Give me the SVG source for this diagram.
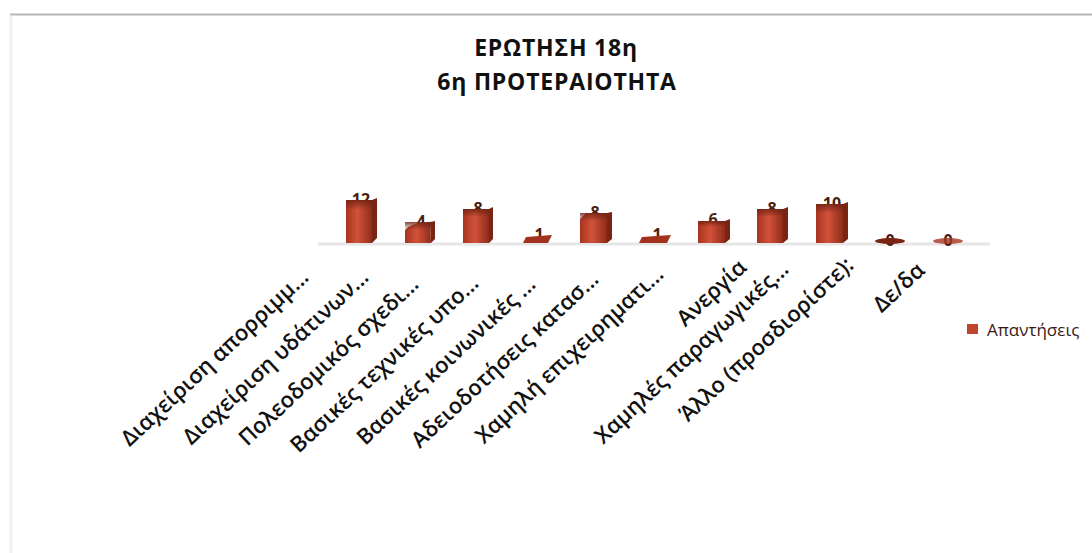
<svg xmlns="http://www.w3.org/2000/svg" width="1092" height="553" viewBox="0 0 1092 553">
<defs>
<linearGradient id="barG" x1="0" y1="0" x2="1" y2="0">
<stop offset="0" stop-color="#a8341f"/>
<stop offset="0.45" stop-color="#d2523a"/>
<stop offset="1" stop-color="#8e2c1a"/>
</linearGradient>
<linearGradient id="topG" x1="0" y1="0" x2="0" y2="1">
<stop offset="0" stop-color="#6e2214" stop-opacity="0.85"/>
<stop offset="1" stop-color="#6e2214" stop-opacity="0"/>
</linearGradient>
<style>
.title{font-family:"Open Sans","Noto Sans",sans-serif;font-weight:700;font-size:23px;letter-spacing:0.8px;fill:#111;text-anchor:middle}
.cat{font-family:"Open Sans","Noto Sans",sans-serif;font-weight:600;font-size:22px;fill:#111;text-anchor:end}
.val{font-family:"Open Sans","Noto Sans",sans-serif;font-weight:700;font-size:16px;fill:#4a1c12;text-anchor:middle}
.side{fill:#7a2414}
.front{fill:url(#barG)}
.shade{fill:url(#topG)}
.leg{font-family:"Open Sans","Noto Sans",sans-serif;font-size:17px;fill:#3a1a12}
</style>
</defs>
<rect x="0" y="0" width="1092" height="553" fill="#fff"/>
<line x1="10" y1="14.5" x2="1092" y2="14.5" stroke="#b4b6ba" stroke-width="2"/>
<line x1="11" y1="16" x2="11" y2="553" stroke="#f0f0f0" stroke-width="3"/>
<g id="title">
<text class="title" x="556" y="56">ΕΡΩΤΗΣΗ 18η</text>
<text class="title" x="557" y="90">6η ΠΡΟΤΕΡΑΙΟΤΗΤΑ</text>
</g>
<g id="floor">
<line x1="318" y1="244" x2="990" y2="244" stroke="#e6e6e6" stroke-width="3"/>
</g>
<g id="values">
<text class="val" x="361" y="205">12</text>
<text class="val" x="421" y="227">4</text>
<text class="val" x="478" y="214">8</text>
<text class="val" x="539" y="240">1</text>
<text class="val" x="595" y="218">8</text>
<text class="val" x="657" y="240">1</text>
<text class="val" x="713" y="225">6</text>
<text class="val" x="772" y="214">8</text>
<text class="val" x="832" y="209">10</text>
<text class="val" x="890" y="246">0</text>
<text class="val" x="948" y="246">0</text>
</g>
<g id="bars">
<g id="bar1"><rect class="front" x="346" y="200" width="26" height="43"/><path class="side" d="M372 200 L377 198 L377 238 L372 243 Z"/><rect class="shade" x="346" y="200" width="26" height="10"/></g>
<g id="bar2"><path class="front" d="M405 230 Q412 222 430 222 L431 243 L405 243 Z"/><path class="side" d="M430 222 L435 221 L435 239 L431 243 Z"/><rect class="shade" x="405" y="222" width="26" height="8"/></g>
<g id="bar3"><rect class="front" x="463" y="209" width="26" height="34"/><path class="side" d="M489 209 L493 207 L493 239 L489 243 Z"/><rect class="shade" x="463" y="209" width="26" height="8"/></g>
<g id="bar4"><path d="M526 237 L552 235 L548 243 L523 243 Z" fill="#a0321e"/></g>
<g id="bar5"><path class="front" d="M580 219 L586 213 L607 213 L607 243 L580 243 Z"/><path class="side" d="M607 213 L612 212 L612 239 L607 243 Z"/><rect class="shade" x="580" y="213" width="27" height="8"/></g>
<g id="bar6"><path d="M642 237 L671 235 L667 243 L639 243 Z" fill="#a0321e"/></g>
<g id="bar7"><rect class="front" x="698" y="221" width="27" height="22"/><path class="side" d="M725 221 L730 219 L730 239 L725 243 Z"/><rect class="shade" x="698" y="221" width="27" height="6"/></g>
<g id="bar8"><rect class="front" x="757" y="209" width="26" height="34"/><path class="side" d="M783 209 L788 207 L788 239 L783 243 Z"/><rect class="shade" x="757" y="209" width="26" height="8"/></g>
<g id="bar9"><rect class="front" x="816" y="204" width="27" height="39"/><path class="side" d="M843 204 L848 202 L848 239 L843 243 Z"/><rect class="shade" x="816" y="204" width="27" height="9"/></g>
<g id="bar10"><ellipse cx="890" cy="241" rx="15" ry="3" fill="#7a2414"/></g>
<g id="bar11"><ellipse cx="948" cy="241" rx="15" ry="3" fill="#a8341f" opacity="0.8"/></g>
</g>
<g id="categories">
<text class="cat" transform="translate(310,279) rotate(-43)">Διαχείριση απορριμμ...</text>
<text class="cat" transform="translate(370,279) rotate(-43)">Διαχείριση υδάτινων...</text>
<text class="cat" transform="translate(420,286) rotate(-43)">Πολεοδομικός σχεδι...</text>
<text class="cat" transform="translate(480,285) rotate(-43)">Βασικές τεχνικές υπο...</text>
<text class="cat" transform="translate(537,286) rotate(-43)">Βασικές κοινωνικές ...</text>
<text class="cat" transform="translate(600,281) rotate(-43)">Αδειοδοτήσεις κατασ...</text>
<text class="cat" transform="translate(665,276) rotate(-43)">Χαμηλή επιχειρηματι...</text>
<text class="cat" transform="translate(748,269) rotate(-43)">Ανεργία</text>
<text class="cat" transform="translate(790,271) rotate(-43)">Χαμηλές παραγωγικές...</text>
<text class="cat" transform="translate(855,267) rotate(-43)">Άλλο (προσδιορίστε):</text>
<text class="cat" transform="translate(926,272) rotate(-43)">Δε/δα</text>
</g>
<g id="legend">
<rect x="967" y="324" width="11" height="10" fill="#c0452e"/>
<text class="leg" x="987" y="336">Απαντήσεις</text>
</g>
</svg>
